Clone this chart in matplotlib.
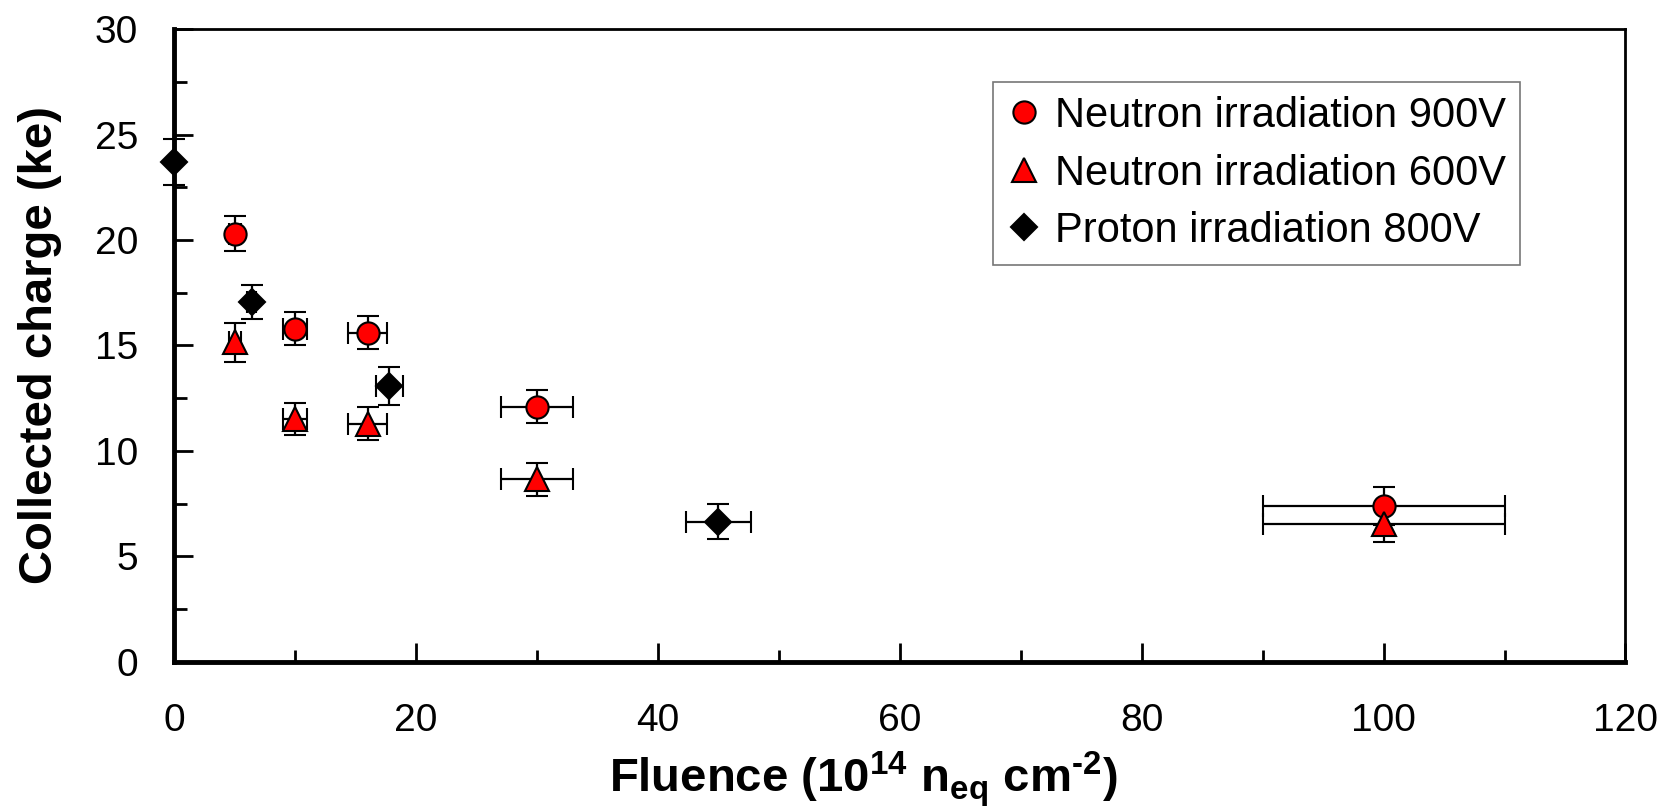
import matplotlib
matplotlib.use("Agg")
import matplotlib.pyplot as plt
from matplotlib.lines import Line2D
from matplotlib.ticker import MultipleLocator

plt.rcParams['font.family'] = ['Liberation Sans', 'DejaVu Sans']
plt.rcParams['mathtext.fontset'] = 'custom'
plt.rcParams['mathtext.rm'] = 'Liberation Sans:bold'
plt.rcParams['mathtext.bf'] = 'Liberation Sans:bold'
plt.rcParams['mathtext.default'] = 'bf'

# neutron irradiation, 900 V
n900_fluence = [5, 10, 16, 30, 100]
n900_charge = [20.3, 15.8, 15.6, 12.1, 7.4]
n900_xerr = [0.5, 1.0, 1.6, 3.0, 10.0]
n900_yerr = [0.82, 0.8, 0.78, 0.78, 0.9]

# neutron irradiation, 600 V
n600_fluence = [5, 10, 16, 30, 100]
n600_charge = [15.15, 11.5, 11.3, 8.65, 6.55]
n600_xerr = [0.5, 1.0, 1.6, 3.0, 10.0]
n600_yerr = [0.92, 0.76, 0.76, 0.8, 0.86]

# proton irradiation, 800 V
p800_fluence = [0, 6.4, 17.8, 45]
p800_charge = [23.7, 17.05, 13.1, 6.65]
p800_xerr = [0, 0.4, 1.1, 2.7]
p800_yerr = [1.08, 0.8, 0.9, 0.82]

labels = ['Neutron irradiation 900V', 'Neutron irradiation 600V', 'Proton irradiation 800V']

fig = plt.figure(figsize=(16.74, 8.11), dpi=100)
ax = fig.add_axes([0.104, 0.184, 0.867, 0.78])

eb = dict(ecolor='black', elinewidth=1.6, capsize=8, capthick=1.6, linestyle='none',
          markeredgecolor='black', markeredgewidth=1.5, zorder=3, clip_on=False)

ax.errorbar(n900_fluence, n900_charge, xerr=n900_xerr, yerr=n900_yerr,
            marker='o', markersize=16, markerfacecolor='red', **eb)
ax.errorbar(n600_fluence, n600_charge, xerr=n600_xerr, yerr=n600_yerr,
            marker='^', markersize=17, markerfacecolor='red', **eb)
ax.errorbar(p800_fluence, p800_charge, xerr=p800_xerr, yerr=p800_yerr,
            marker='D', markersize=13, markerfacecolor='black', **eb)

ax.set_xlim(0, 120)
ax.set_ylim(0, 30)
ax.xaxis.set_major_locator(MultipleLocator(20))
ax.xaxis.set_minor_locator(MultipleLocator(10))
ax.yaxis.set_major_locator(MultipleLocator(5))
ax.yaxis.set_minor_locator(MultipleLocator(2.5))

ax.tick_params(axis='both', which='both', direction='in', top=False, right=False,
               width=2, labelsize=28)
ax.tick_params(axis='both', which='major', length=14)
ax.tick_params(axis='both', which='minor', length=9)
ax.tick_params(axis='x', pad=30)
ax.tick_params(axis='y', pad=26)

for side in ['left', 'bottom']:
    ax.spines[side].set_linewidth(3.5)
for side in ['top', 'right']:
    ax.spines[side].set_linewidth(2)

ax.set_xlabel('Fluence (10$^{14}$ n$_{eq}$ cm$^{\u20102}$)', fontsize=34, fontweight='bold')
ax.set_ylabel('Collected charge (ke)', fontsize=34, fontweight='bold')
ax.xaxis.set_label_coords(0.475, -0.138)
ax.yaxis.set_label_coords(-0.077, 0.5)

handles = [
    Line2D([], [], linestyle='none', marker='o', markersize=16, markerfacecolor='red',
           markeredgecolor='black', markeredgewidth=1.5),
    Line2D([], [], linestyle='none', marker='^', markersize=17, markerfacecolor='red',
           markeredgecolor='black', markeredgewidth=1.5),
    Line2D([], [], linestyle='none', marker='D', markersize=13, markerfacecolor='black',
           markeredgecolor='black', markeredgewidth=1.5),
]
leg = ax.legend(handles, labels, loc='upper right', bbox_to_anchor=(0.927, 0.916),
                fontsize=30, frameon=True, fancybox=False, edgecolor='#555555',
                handlelength=0.8, handletextpad=0.35, borderpad=0.33, labelspacing=0.42,
                borderaxespad=0)
leg.get_frame().set_linewidth(1.2)

fig.savefig('out.png', dpi=100)
